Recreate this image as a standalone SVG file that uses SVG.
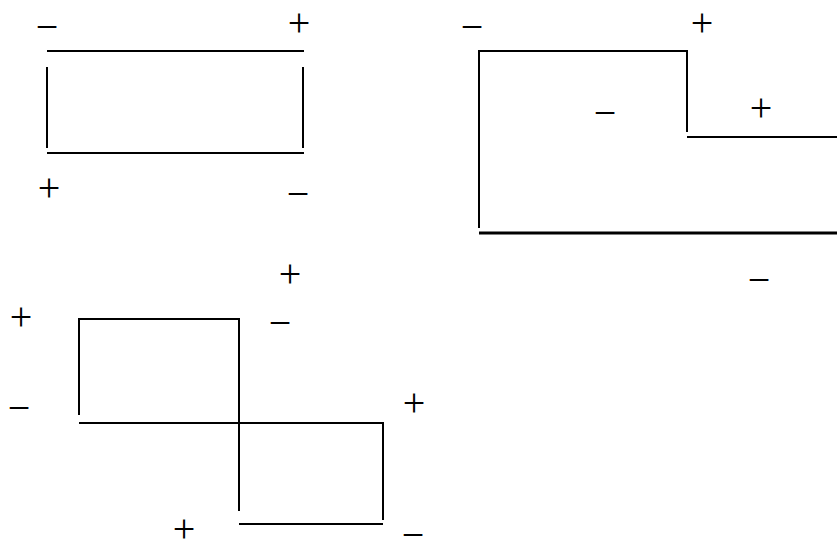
<svg xmlns="http://www.w3.org/2000/svg" width="837" height="539" viewBox="0 0 837 539">
<style>
.ln{stroke:#000;stroke-width:2;fill:none;stroke-linecap:butt;stroke-linejoin:miter}
.thick{stroke-width:3}
.sg{font-family:"Liberation Serif","Times New Roman",serif;font-size:40px;fill:#000;text-anchor:middle}
</style>
<rect width="837" height="539" fill="#fff"/>
<g id="connectors">
<g id="conn-rect">
<line class="ln" x1="47" y1="51" x2="304" y2="51"/>
<line class="ln" x1="47" y1="67" x2="47" y2="148"/>
<line class="ln" x1="303" y1="67" x2="303" y2="148"/>
<line class="ln" x1="47" y1="153" x2="304" y2="153"/>
</g>
<g id="conn-step">
<polyline class="ln" points="479,228 479,51 687,51 687,132"/>
<line class="ln" x1="687" y1="137" x2="837" y2="137"/>
<line class="ln thick" x1="479" y1="233" x2="837" y2="233"/>
</g>
<g id="conn-z">
<polyline class="ln" points="79,415 79,319 239,319 239,511"/>
<polyline class="ln" points="79,423 383,423 383,520"/>
<line class="ln" x1="239" y1="524" x2="383" y2="524"/>
</g>
</g>
<g id="node-rect-labels">
<text class="sg" x="47" y="39.5">−</text>
<text class="sg" x="299" y="36">+</text>
<text class="sg" x="49" y="200.5">+</text>
<text class="sg" x="298" y="206.5">−</text>
</g>
<g id="node-step-labels">
<text class="sg" x="472" y="39.5">−</text>
<text class="sg" x="702" y="36">+</text>
<text class="sg" x="605" y="125.5">−</text>
<text class="sg" x="761" y="120.5">+</text>
<text class="sg" x="759" y="292.5">−</text>
</g>
<g id="node-z-labels">
<text class="sg" x="290" y="286.5">+</text>
<text class="sg" x="21" y="329.5">+</text>
<text class="sg" x="280" y="335.5">−</text>
<text class="sg" x="19" y="420.5">−</text>
<text class="sg" x="414" y="415.5">+</text>
<text class="sg" x="184" y="542">+</text>
<text class="sg" x="413" y="548">−</text>
</g>
</svg>
